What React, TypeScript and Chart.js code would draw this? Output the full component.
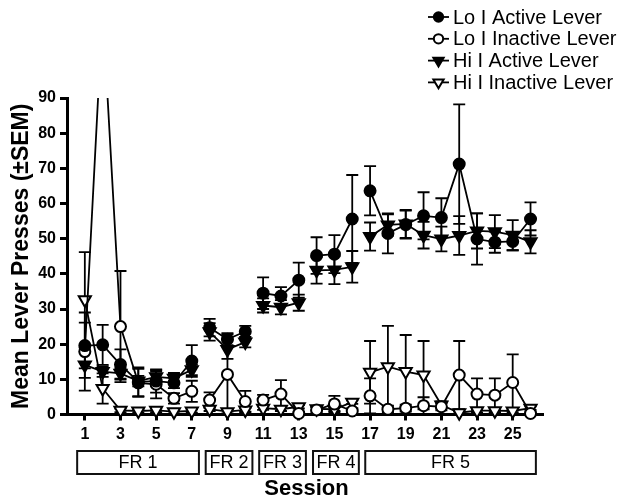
import React, { useEffect, useRef } from 'react';
import { Chart, registerables } from 'chart.js';

Chart.register(...registerables);

const sessions = [1, 2, 3, 4, 5, 6, 7, 8, 9, 10, 11, 12, 13, 14, 15, 16, 17, 18, 19, 20, 21, 22, 23, 24, 25, 26];

const loActive = [19.6, 19.8, 14.2, 9.3, 9.5, 9.0, 15.2, 24.7, 21.4, 23.6, 34.5, 33.7, 38.2, 45.2, 45.6, 55.6, 63.6, 51.5, 54.0, 56.5, 56.0, 71.2, 49.9, 49.0, 49.2, 55.6];
const loActiveSem = [6.5, 5.7, 4.3, 4.1, 3.3, 1.5, 4.5, 2.5, 1.7, 1.6, 4.5, 2.5, 5.0, 5.2, 5.4, 12.5, 7.0, 5.7, 4.0, 6.7, 5.5, 17.0, 7.3, 3.0, 2.5, 4.7];

const loInactive = [17.9, 115, 25.0, 9.0, 8.6, 4.6, 6.6, 4.1, 11.4, 3.7, 4.1, 5.8, 0.3, 1.3, 3.0, 1.0, 5.3, 1.5, 1.8, 2.5, 2.2, 11.2, 5.8, 5.5, 9.1, 0.3];
const loInactiveSem = [11.1, 10.0, 15.8, 4.0, 4.0, 1.5, 3.0, 2.2, 11.4, 3.0, 1.5, 4.0, 0.3, 0.8, 2.3, 0.8, 5.0, 1.0, 1.0, 2.4, 1.0, 9.7, 4.5, 4.8, 8.0, 0.3];

const hiActive = [14.1, 12.2, 11.7, 9.5, 10.7, 10.3, 12.7, 23.5, 18.5, 20.6, 31.0, 30.5, 31.8, 41.0, 41.1, 42.0, 50.6, 53.9, 54.2, 51.0, 49.9, 50.9, 52.2, 52.0, 51.0, 49.1];
const hiActiveSem = [3.7, 1.5, 1.5, 1.5, 1.5, 1.5, 1.5, 2.5, 2.7, 1.5, 2.0, 2.0, 2.3, 3.8, 4.0, 4.5, 4.0, 3.0, 4.0, 3.8, 3.5, 5.5, 5.0, 4.7, 4.3, 3.3];

const hiInactive = [32.6, 7.4, 1.2, 1.0, 1.2, 0.8, 1.0, 1.5, 0.8, 1.3, 1.8, 1.5, 2.2, 1.6, 1.5, 3.5, 12.0, 13.6, 12.2, 11.2, 2.7, 0.5, 1.1, 1.1, 1.0, 1.8];
const hiInactiveSem = [13.6, 4.3, 0.5, 0.5, 0.5, 0.5, 0.5, 0.5, 0.5, 0.5, 0.5, 0.5, 0.5, 0.5, 0.5, 0.5, 8.9, 11.6, 10.4, 9.7, 1.0, 0.3, 0.5, 0.5, 0.5, 0.5];

const xTickValues = [1, 3, 5, 7, 9, 11, 13, 15, 17, 19, 21, 23, 25];
const phaseLabels = ['FR 1', 'FR 2', 'FR 3', 'FR 4', 'FR 5'];
const phaseFrom = [0.57, 7.78, 10.78, 13.8, 16.73];
const phaseTo = [7.4, 10.4, 13.4, 16.37, 26.3];
const phaseFirstSessions = [8, 11, 14, 17];
const legendLabels = ['Lo I Active Lever', 'Lo I Inactive Lever', 'Hi I Active Lever', 'Hi I Inactive Lever'];

const FONT = '"Liberation Sans", Arial, Helvetica, sans-serif';

type Shape = { shape: 'circle' | 'triangle'; fill: string; radius: number };
const shapes: Shape[] = [
  { shape: 'circle', fill: '#000', radius: 5.5 },
  { shape: 'circle', fill: '#fff', radius: 5.5 },
  { shape: 'triangle', fill: '#000', radius: 7 },
  { shape: 'triangle', fill: '#fff', radius: 7 },
];

function drawMarker(ctx: CanvasRenderingContext2D, s: Shape, x: number, y: number) {
  ctx.beginPath();
  if (s.shape === 'circle') {
    ctx.arc(x, y, s.radius, 0, Math.PI * 2);
  } else {
    const r = s.radius;
    ctx.moveTo(x, y + r);
    ctx.lineTo(x - r * 0.866, y - r * 0.5);
    ctx.lineTo(x + r * 0.866, y - r * 0.5);
    ctx.closePath();
  }
  ctx.fillStyle = s.fill;
  ctx.fill();
  ctx.lineWidth = 2;
  ctx.strokeStyle = '#000';
  ctx.stroke();
}

const errorBarPlugin = {
  id: 'errorBars',
  beforeDatasetsDraw(chart: any) {
    const { ctx, chartArea, scales } = chart;
    const x = scales.x;
    const y = scales.y;
    ctx.save();
    ctx.beginPath();
    ctx.rect(chartArea.left, chartArea.top - 1, chartArea.right - chartArea.left, chartArea.bottom - chartArea.top + 1);
    ctx.clip();
    ctx.strokeStyle = '#000';
    ctx.lineWidth = 1.8;
    chart.data.datasets.forEach((ds: any) => {
      ds.data.forEach((p: any, i: number) => {
        const e = ds.errors[i];
        const px = x.getPixelForValue(p.x);
        const top = y.getPixelForValue(p.y + e);
        const bot = y.getPixelForValue(p.y - e);
        ctx.beginPath();
        ctx.moveTo(px, top);
        ctx.lineTo(px, bot);
        ctx.moveTo(px - 6, top);
        ctx.lineTo(px + 6, top);
        ctx.moveTo(px - 6, bot);
        ctx.lineTo(px + 6, bot);
        ctx.stroke();
      });
    });
    ctx.restore();
  },
};

const decorPlugin = {
  id: 'decor',
  afterDraw(chart: any) {
    const { ctx, scales } = chart;
    const x = scales.x;
    ctx.save();
    // legend
    legendLabels.forEach((label, i) => {
      const cy = 17 + i * 21.8;
      ctx.strokeStyle = '#000';
      ctx.lineWidth = 1.8;
      ctx.beginPath();
      ctx.moveTo(428, cy);
      ctx.lineTo(449, cy);
      ctx.stroke();
      drawMarker(ctx, { ...shapes[i], radius: shapes[i].radius * 0.85 }, 438.5, cy);
      ctx.fillStyle = '#000';
      ctx.font = `20px ${FONT}`;
      ctx.textAlign = 'left';
      ctx.textBaseline = 'middle';
      ctx.fillText(label, 453, cy + 1);
    });
    // phase boxes
    phaseLabels.forEach((label, i) => {
      const l = x.getPixelForValue(phaseFrom[i]);
      const r = x.getPixelForValue(phaseTo[i]);
      ctx.strokeStyle = '#111';
      ctx.lineWidth = 2;
      ctx.strokeRect(l, 451, r - l, 23);
      ctx.fillStyle = '#000';
      ctx.font = `18px ${FONT}`;
      ctx.textAlign = 'center';
      ctx.textBaseline = 'middle';
      ctx.fillText(label, (l + r) / 2, 463);
    });
    // x title
    const mid = (x.getPixelForValue(phaseFrom[0]) + x.getPixelForValue(phaseTo[4])) / 2;
    ctx.font = `bold 22px ${FONT}`;
    ctx.textAlign = 'center';
    ctx.textBaseline = 'middle';
    ctx.fillStyle = '#000';
    ctx.fillText('Session', mid, 489);
    ctx.restore();
  },
};

const seriesValues = [loActive, loInactive, hiActive, hiInactive];
const seriesSems = [loActiveSem, loInactiveSem, hiActiveSem, hiInactiveSem];

export default function App() {
  const ref = useRef<HTMLCanvasElement | null>(null);
  useEffect(() => {
    if (!ref.current) return;
    const datasets = seriesValues.map((vals, k) => ({
      label: legendLabels[k],
      data: sessions.map((s, i) => ({ x: s, y: vals[i] })),
      errors: seriesSems[k],
      borderColor: '#000',
      borderWidth: 1.8,
      backgroundColor: shapes[k].fill,
      pointBackgroundColor: shapes[k].fill,
      pointBorderColor: '#000',
      pointBorderWidth: 2,
      pointStyle: shapes[k].shape,
      pointRotation: shapes[k].shape === 'triangle' ? 180 : 0,
      pointRadius: shapes[k].radius,
      pointHoverRadius: shapes[k].radius,
      tension: 0,
      fill: false,
      clip: { left: 20, right: 20, top: 0, bottom: 20 },
      segment: {
        borderColor: (c: any) =>
          phaseFirstSessions.includes(sessions[c.p1DataIndex]) ? 'rgba(0,0,0,0)' : '#000',
      },
    }));
    const chart = new Chart(ref.current, {
      type: 'line',
      data: { datasets } as any,
      options: {
        animation: false,
        responsive: false,
        layout: { padding: { top: 98, right: 83, left: 0, bottom: 0 } },
        plugins: { legend: { display: false }, tooltip: { enabled: false } },
        scales: {
          x: {
            type: 'linear',
            min: 0,
            max: 26.7,
            afterBuildTicks: (s: any) => {
              s.ticks = xTickValues.map((v) => ({ value: v }));
            },
            afterFit: (s: any) => {
              s.height = 89.5;
            },
            grid: { drawOnChartArea: false, drawTicks: true, tickLength: 6, tickWidth: 3, tickColor: '#000' },
            border: { color: '#000', width: 3 },
            ticks: {
              color: '#000',
              font: { family: FONT, size: 16, weight: 'bold' },
              padding: 4,
              maxRotation: 0,
              autoSkip: false,
            },
          },
          y: {
            min: 0,
            max: 90,
            afterFit: (s: any) => {
              s.width = 67;
            },
            grid: { drawOnChartArea: false, drawTicks: true, tickLength: 7, tickWidth: 3, tickColor: '#000' },
            border: { color: '#000', width: 3 },
            ticks: {
              stepSize: 10,
              color: '#000',
              font: { family: FONT, size: 16, weight: 'bold' },
              padding: 4,
            },
            title: {
              display: true,
              text: 'Mean Lever Presses (±SEM)',
              color: '#000',
              font: { family: FONT, size: 23, weight: 'bold' },
              padding: { top: 8, bottom: 0 },
            },
          },
        },
      } as any,
      plugins: [errorBarPlugin, decorPlugin],
    });
    return () => chart.destroy();
  }, []);
  return (
    <canvas
      ref={ref}
      width={626}
      height={504}
      style={{ position: 'absolute', left: 0, top: 0, width: 626, height: 504, display: 'block', background: '#fff' }}
    />
  );
}
